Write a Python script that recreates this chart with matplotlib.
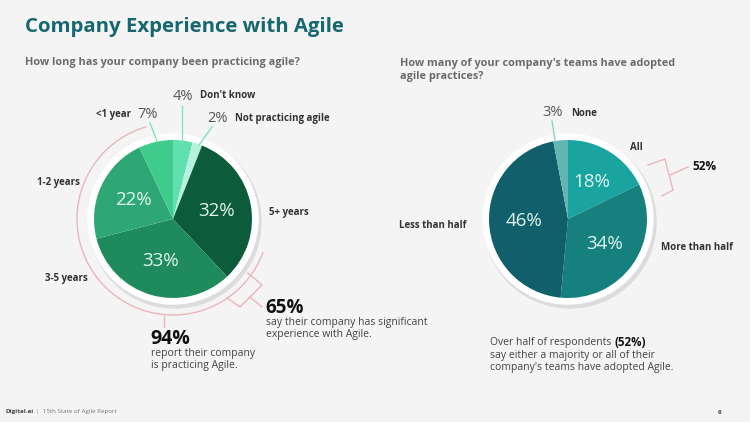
import numpy as np
import matplotlib.pyplot as plt
from matplotlib.patches import Circle, Arc

# data
left_labels = ["Don't know", "Not practicing agile", "5+ years", "3-5 years", "1-2 years", "<1 year"]
left_values = [4, 2, 32, 33, 22, 7]
left_colors = ["#5fe0ae", "#b5f1dc", "#0c5b3a", "#1f8a5b", "#2fa774", "#3fcb8b"]

right_labels = ["All", "More than half", "Less than half", "None"]
right_values = [18, 34, 46, 3]
right_colors = ["#1aa4a0", "#16807f", "#105f6b", "#62b6b2"]

W, H = 750, 422
BG = "#f4f4f4"
PINK = "#e9b7bb"
GRAY = "#6b6b6b"
plt.rcParams["font.family"] = ["Open Sans", "DejaVu Sans"]


def Y(y):
    # pixel row -> data y
    return H - y


fig = plt.figure(figsize=(7.5, 4.22), dpi=100, facecolor=BG)
ax = fig.add_axes([0, 0, 1, 1])
ax.set_facecolor(BG)
ax.axis("off")


def draw_pie(cx, cy, values, colors, min_label):
    r = 79
    # white ring with a soft shadow behind the pie
    ax.add_patch(Circle((cx + 2, Y(cy) - 3), r + 7, color="#dcdcdc", zorder=1))
    ax.add_patch(Circle((cx, Y(cy)), r + 6, color="white", zorder=2))
    wedges, _ = ax.pie(values, colors=colors, startangle=90, counterclock=False,
                       center=(cx, Y(cy)), radius=r, frame=True,
                       wedgeprops=dict(linewidth=0))
    total = sum(values)
    for w, v in zip(wedges, values):
        w.set_zorder(3)
        if v < min_label:
            continue
        a = np.deg2rad((w.theta1 + w.theta2) / 2)
        ax.text(cx + 0.56 * r * np.cos(a), Y(cy) + 0.56 * r * np.sin(a),
                f"{round(100 * v / total)}%", color="#dff7ee", fontsize=13.5,
                ha="center", va="center", zorder=5)
    return wedges


draw_pie(173, 219, left_values, left_colors, 10)
draw_pie(568, 219, right_values, right_colors, 10)
ax.set_xlim(0, W)
ax.set_ylim(0, H)
ax.set_aspect("equal")

# title and questions
ax.text(25, Y(27), "Company Experience with Agile", color="#17676f", fontsize=14.7,
        fontweight="bold", va="center")
ax.text(25, Y(62), "How long has your company been practicing agile?", color=GRAY,
        fontsize=7.8, fontweight="bold", va="center")
ax.text(400, Y(70), "How many of your company's teams have adopted\nagile practices?",
        color=GRAY, fontsize=7.8, fontweight="bold", va="center", linespacing=1.15)

lab = dict(color="#333333", fontsize=7, fontweight="bold", va="center")
pct = dict(color="#555555", fontsize=10.5, va="center")

# left outside labels
ax.text(183, Y(97), "4%", ha="center", **pct)
ax.text(200, Y(96), "Don't know", **lab)
ax.text(218, Y(118), "2%", ha="center", **pct)
ax.text(235, Y(118), "Not practicing agile", **lab)
ax.text(148, Y(114), "7%", ha="center", **pct)
ax.text(131, Y(114), "<1 year", ha="right", **lab)
ax.text(37, Y(182), "1-2 years", **lab)
ax.text(45, Y(279), "3-5 years", **lab)
ax.text(269, Y(212), "5+ years", **lab)

mint = "#7fe3c4"
ax.plot([182, 182], [Y(106), Y(142)], color=mint, lw=1, zorder=4)
ax.plot([212, 199], [Y(127), Y(145)], color=mint, lw=1, zorder=4)
ax.plot([150, 157], [Y(123), Y(141)], color=mint, lw=1, zorder=4)

# 94% arc and 65% bracket
ax.add_patch(Arc((173, Y(219)), 192, 192, theta1=106, theta2=340, color=PINK, lw=1, zorder=0))
ax.plot([164, 164], [Y(316), Y(327)], color=PINK, lw=1)
ax.plot([227, 240, 262, 248], [Y(298), Y(307), Y(285), Y(273)], color=PINK, lw=1)
ax.plot([250, 262], [Y(297), Y(307)], color=PINK, lw=1)

body = dict(color="#444444", fontsize=7.5, va="top", linespacing=1.1)
ax.text(150, Y(344), "94%", color="#111111", fontsize=14, fontweight="bold", va="baseline")
ax.text(151, Y(348), "report their company\nis practicing Agile.", **body)
ax.text(265, Y(313), "65%", color="#111111", fontsize=13.5, fontweight="bold", va="baseline")
ax.text(266, Y(317), "say their company has significant\nexperience with Agile.", **body)

# right outside labels
ax.text(553, Y(113), "3%", ha="center", **pct)
ax.text(571, Y(113), "None", **lab)
ax.text(630, Y(147), "All", **lab)
ax.text(399, Y(226), "Less than half", **lab)
ax.text(661, Y(248), "More than half", **lab)
ax.text(692, Y(167), "52%", color="#111111", fontsize=8.5, fontweight="bold", va="center")
ax.plot([555, 552], [Y(140), Y(121)], color="#8fd0cc", lw=1, zorder=4)
ax.plot([648, 665, 673, 662], [Y(165), Y(159), Y(190), Y(196)], color=PINK, lw=1)
ax.plot([670, 688], [Y(175), Y(167)], color=PINK, lw=1)

t = ax.text(490, Y(343), "Over half of respondents ", color="#444444", fontsize=7.5,
            va="center")
fig.canvas.draw()
bb = t.get_window_extent().transformed(ax.transData.inverted())
ax.text(bb.x1, Y(342), "(52%)", color="#111111", fontsize=8.3, fontweight="bold", va="center")
ax.text(490, Y(350), "say either a majority or all of their\ncompany's teams have adopted Agile.",
        **body)

# footer
t = ax.text(5, Y(412), "Digital.ai", color="#444444", fontsize=4.5, fontweight="bold", va="center")
fig.canvas.draw()
bb = t.get_window_extent().transformed(ax.transData.inverted())
ax.text(bb.x1 + 3, Y(412), "|  15th State of Agile Report", color="#777777", fontsize=4.5,
        va="center")
ax.text(718, Y(412), "6", color="#444444", fontsize=4.5, fontweight="bold", va="center")

fig.savefig("out.png", dpi=100, facecolor=BG)
